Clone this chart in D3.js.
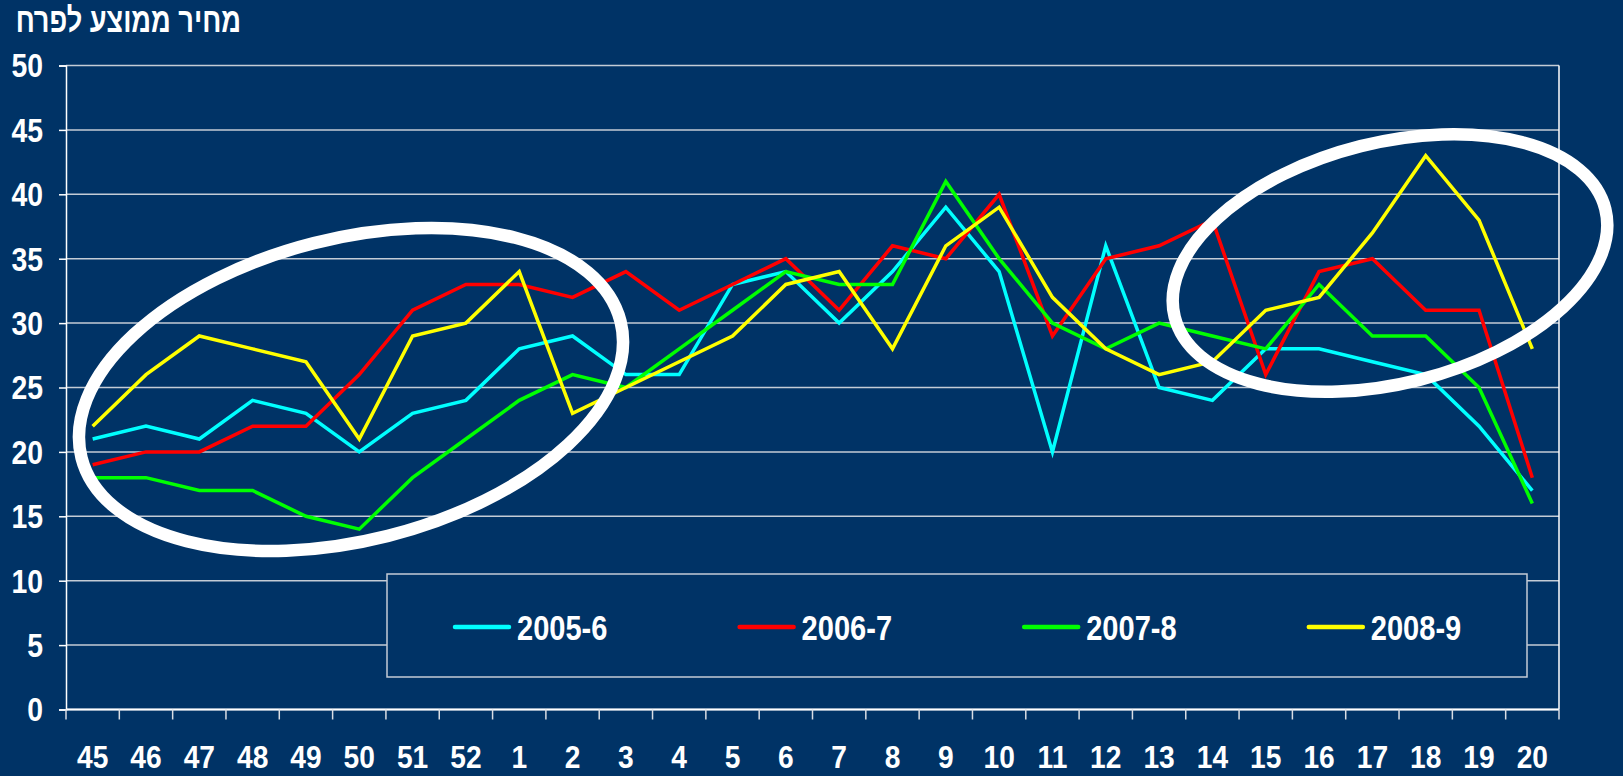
<!DOCTYPE html>
<html>
<head>
<meta charset="utf-8">
<script src="https://cdn.jsdelivr.net/npm/d3@7"></script>
<style>
  body { margin:0; background:#003366; }
  svg { display:block; }
  text { font-family:"Liberation Sans Narrow","Arial Narrow","Liberation Sans",Arial,sans-serif; font-weight:bold; fill:#fff; }
</style>
</head>
<body>
<svg id="graph"></svg>
<script>
var weeks=["45","46","47","48","49","50","51","52","1","2","3","4","5","6","7","8","9","10","11","12","13","14","15","16","17","18","19","20"];

var s2005=[21,22,21,24,23,20,23,24,28,29,26,26,33,34,30,34,39,34,20,36,25,24,28,28,27,26,22,17];
var s2006=[19,20,20,22,22,26,31,33,33,32,34,31,33,35,31,36,35,40,29,35,36,38,26,34,35,31,31,18];
var s2007=[18,18,17,17,15,14,18,21,24,26,25,28,31,34,33,33,41,35,30,28,30,29,28,33,29,29,25,16];
var s2008=[22,26,29,28,27,21,29,30,34,23,25,27,29,33,34,28,36,39,32,28,26,27,31,32,37,43,38,28];

var seriesNames=["2005-6","2006-7","2007-8","2008-9"];
var yTicks=[0,5,10,15,20,25,30,35,40,45,50];
var titleText="מחיר ממוצע לפרח";

var colors=["#00ffff","#ff0000","#00ff00","#ffff00"];

var screen={width:1623,height:776};
var plot={left:66,right:1559,top:65.5,bottom:709.5};

// no narrow font installed, so squeeze the regular bold one sideways
var squeeze=function(sel,sx){
    sel.each(function(){
        var t=d3.select(this);
        var x=+t.attr("x")||0, y=+t.attr("y")||0;
        t.attr("x",0).attr("y",0)
         .attr("transform","translate("+x+","+y+") scale("+sx+",1)");
    });
};

var svg=d3.select("#graph")
    .attr("width",screen.width)
    .attr("height",screen.height);

svg.append("rect")
    .attr("width",screen.width)
    .attr("height",screen.height)
    .attr("fill","#003366");

var xScale=d3.scaleBand()
    .domain(weeks)
    .range([plot.left,plot.right]);
var yScale=d3.scaleLinear()
    .domain([0,50])
    .range([plot.bottom,plot.top]);

var xMid=function(d){ return xScale(d)+xScale.bandwidth()/2; };

// grid lines
svg.append("g")
    .selectAll("line")
    .data(yTicks)
    .enter()
    .append("line")
    .attr("x1",plot.left)
    .attr("x2",plot.right)
    .attr("y1",function(d){ return yScale(d); })
    .attr("y2",function(d){ return yScale(d); })
    .attr("stroke","#c4ccd6")
    .attr("stroke-width",1.5);

// y axis
var yAxis=svg.append("g")
    .attr("transform","translate("+plot.left+",0)")
    .call(d3.axisLeft(yScale).tickValues(yTicks).tickSize(7).tickFormat(""));
yAxis.select(".domain").attr("stroke","#fff").attr("stroke-width",1.5);
yAxis.selectAll(".tick line").attr("stroke","#fff").attr("stroke-width",1.5);

svg.append("g")
    .selectAll("text")
    .data(yTicks)
    .enter()
    .append("text")
    .attr("x",43)
    .attr("y",function(d){ return yScale(d)+11.8; })
    .attr("text-anchor","end")
    .attr("font-size",33)
    .text(function(d){ return d; })
    .call(squeeze,0.86);

// right border
svg.append("line")
    .attr("x1",plot.right).attr("x2",plot.right)
    .attr("y1",plot.top).attr("y2",plot.bottom)
    .attr("stroke","#fff").attr("stroke-width",1.5);

// x axis: ticks on band edges
svg.append("line")
    .attr("x1",plot.left).attr("x2",plot.right)
    .attr("y1",plot.bottom).attr("y2",plot.bottom)
    .attr("stroke","#fff").attr("stroke-width",2);

var edges=weeks.map(function(d){ return xScale(d); }).concat([plot.right]);
svg.append("g")
    .selectAll("line")
    .data(edges)
    .enter()
    .append("line")
    .attr("x1",function(d){ return d; })
    .attr("x2",function(d){ return d; })
    .attr("y1",plot.bottom)
    .attr("y2",plot.bottom+10)
    .attr("stroke","#d8dde4")
    .attr("stroke-width",1.5);

svg.append("g")
    .selectAll("text")
    .data(weeks)
    .enter()
    .append("text")
    .attr("x",xMid)
    .attr("y",768)
    .attr("text-anchor","middle")
    .attr("font-size",32)
    .text(function(d){ return d; })
    .call(squeeze,0.88);

// series lines
var allSeries=[s2005,s2006,s2007,s2008];
var line=d3.line()
    .x(function(d,i){ return xMid(weeks[i]); })
    .y(function(d){ return yScale(d); });

svg.append("g")
    .selectAll("path")
    .data(allSeries)
    .enter()
    .append("path")
    .attr("d",line)
    .attr("fill","none")
    .attr("stroke",function(d,i){ return colors[i]; })
    .attr("stroke-width",3.5)
    .attr("stroke-linejoin","miter");

// highlight ellipses
var rings=[{cx:351,cy:389.5,rx:278,ry:151,rot:-14.2},{cx:1390,cy:263,rx:222,ry:120.5,rot:-14.1}];
svg.append("g")
    .selectAll("ellipse")
    .data(rings)
    .enter()
    .append("ellipse")
    .attr("cx",0).attr("cy",0)
    .attr("rx",function(d){ return d.rx; })
    .attr("ry",function(d){ return d.ry; })
    .attr("transform",function(d){ return "translate("+d.cx+","+d.cy+") rotate("+d.rot+")"; })
    .attr("fill","none")
    .attr("stroke","#fff")
    .attr("stroke-width",12.5);

// legend
var legend=svg.append("g");
legend.append("rect")
    .attr("x",387).attr("y",574)
    .attr("width",1140).attr("height",103)
    .attr("fill","#003366")
    .attr("stroke","#c4ccd6")
    .attr("stroke-width",1.5);

var items=legend.selectAll("g.item")
    .data(seriesNames)
    .enter()
    .append("g")
    .attr("class","item")
    .attr("transform",function(d,i){ return "translate("+(455+i*284.6)+",627)"; });
items.append("line")
    .attr("x1",0).attr("x2",54)
    .attr("y1",0).attr("y2",0)
    .attr("stroke",function(d,i){ return colors[i]; })
    .attr("stroke-width",4.5)
    .attr("stroke-linecap","round");
items.append("text")
    .attr("x",62)
    .attr("y",12.5)
    .attr("font-size",35)
    .text(function(d){ return d; })
    .call(squeeze,0.83);

// title
svg.append("text")
    .attr("x",241)
    .attr("y",32)
    .attr("text-anchor","end")
    .attr("font-size",34)
    .text(titleText)
    .call(squeeze,0.8);
</script>
</body>
</html>
